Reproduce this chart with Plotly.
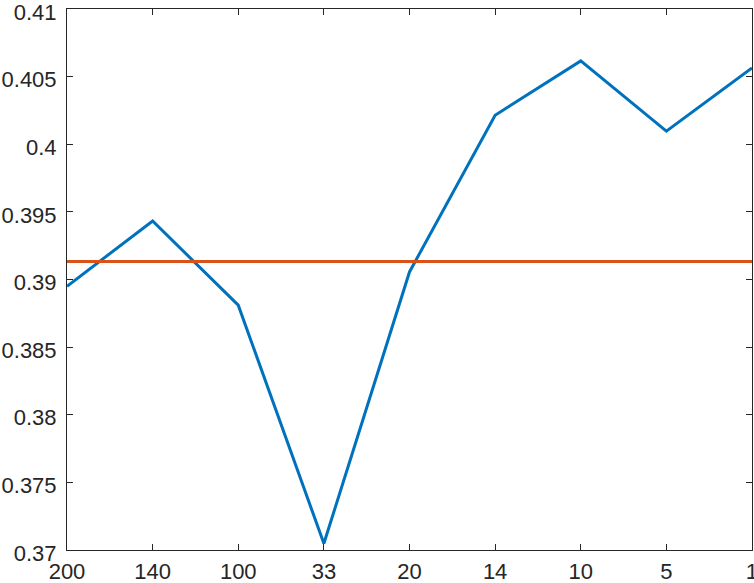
import plotly.graph_objects as go

# x categories (strings so they stay in this order)
categories = ['200', '140', '100', '33', '20', '14', '10', '5', '1']
series_values = [0.3895, 0.39433, 0.3881, 0.37047, 0.39056, 0.40215, 0.40617, 0.40097, 0.40565]
mean_value = 0.39133
y_ticks = [0.37, 0.375, 0.38, 0.385, 0.39, 0.395, 0.4, 0.405, 0.41]
y_tick_labels = ['0.37', '0.375', '0.38', '0.385', '0.39', '0.395', '0.4', '0.405', '0.41']

fig = go.Figure()
fig.add_trace(go.Scatter(x=categories, y=series_values, mode='lines',
                         line=dict(color='#0072BD', width=3)))
fig.add_trace(go.Scatter(x=[categories[0], categories[-1]], y=[mean_value, mean_value], mode='lines',
                         line=dict(color='#D95319', width=3)))

axis_style = dict(showline=True, linecolor='#262626', linewidth=1, mirror='ticks',
                  ticks='inside', ticklen=6, tickcolor='#262626', showgrid=False, zeroline=False,
                  automargin=False, ticklabeloverflow='allow')

fig.update_xaxes(type='category', range=[-0.0001, len(categories) - 1 + 0.0001],
                 ticklabelstandoff=2, **axis_style)
# labels sit a few px below their ticks, as in the original
fig.update_yaxes(range=[0.36999, 0.41001], tickvals=y_ticks, ticktext=y_tick_labels,
                 ticklabelstandoff=5, ticklabelshift=3, **axis_style)

fig.update_layout(width=754, height=583, showlegend=False,
                  margin=dict(l=67, r=2, t=9, b=33),
                  plot_bgcolor='white', paper_bgcolor='white',
                  font=dict(family='Liberation Sans, Arial, sans-serif', size=22, color='#262626'))

# drop the default page margin so the figure sits at the window's corner
fig.write_html("out.html", config={'displayModeBar': False},
               post_script="document.body.style.margin='0';")
